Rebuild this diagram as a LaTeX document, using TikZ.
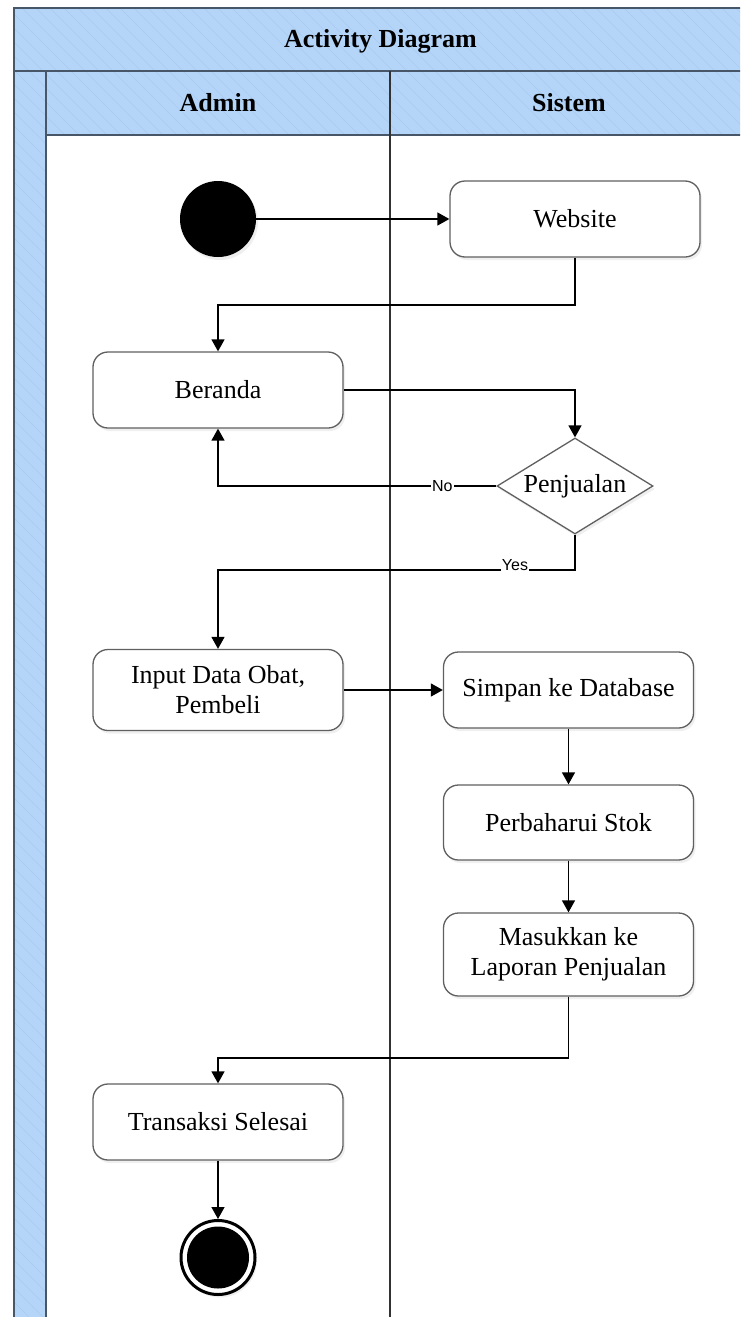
\documentclass[tikz,border=0pt]{standalone}
\usepackage{fontspec}
\setmainfont{Liberation Serif}
\newfontfamily\labelfont{Liberation Sans}
\usetikzlibrary{arrows.meta,shapes.geometric,shadows}
\definecolor{hdrblue}{RGB}{180,213,248}
\definecolor{hatchc}{RGB}{168,203,242}
\definecolor{framec}{RGB}{72,86,106}
\definecolor{boxc}{RGB}{96,96,96}
\definecolor{lanec}{RGB}{50,50,50}
\begin{document}
\begin{tikzpicture}[x=1pt,y=-1pt,
  act/.style={draw=boxc, line width=1.3pt, fill=white, rounded corners=15pt,
    minimum width=250pt, inner sep=2pt, align=center,
    font=\fontsize{26}{30}\selectfont,
    drop shadow={opacity=0.12, shadow xshift=2pt, shadow yshift=-3pt}},
  dec/.style={diamond, aspect=1.625, draw=boxc, line width=1.3pt, fill=white, inner sep=0pt,
    minimum width=156pt, minimum height=96pt,
    font=\fontsize{26}{30}\selectfont,
    drop shadow={opacity=0.12, shadow xshift=2pt, shadow yshift=-3pt}},
  hdr/.style={font=\bfseries\fontsize{26}{30}\selectfont, inner sep=0pt},
  arr/.style={draw=black, line width=1.4pt, -{Triangle[length=12pt,width=13pt]}},
  lbl/.style={font=\labelfont\fontsize{16}{18}\selectfont, fill=white, inner sep=1pt},
  frameline/.style={draw=framec, line width=2pt}
]
\clip (0,0) rectangle (740,1317);
% header fills
\fill[hdrblue] (14,8) rectangle (760,135);
\fill[hdrblue] (14,135) rectangle (46,1330);
\begin{scope}
  \clip (14,8) rectangle (760,135) (14,8) rectangle (46,1330);
  \foreach \i in {-1400,-1386,...,760} \draw[hatchc, line width=0.5pt] (\i,0) -- ++(1400,1400);
\end{scope}
\fill[white] (46,135) rectangle (760,1330);
% frame lines
\draw[frameline] (760,8) -- (14,8) -- (14,1330);
\draw[frameline] (14,71) -- (760,71);
\draw[frameline] (46,71) -- (46,1330);
\draw[frameline] (46,135) -- (760,135);
\draw[lanec, line width=2pt] (390,71) -- (390,1330);
\draw[framec, line width=2pt] (747,8) -- (747,1330);
% headers
\node[hdr] (title) at (380.5,41) {Activity Diagram};
\node[hdr] (admin) at (218,103) {Admin};
\node[hdr] (sistem) at (569,103) {Sistem};
% nodes
\node[circle, fill=black, minimum size=76pt, inner sep=0pt,
  drop shadow={opacity=0.12, shadow xshift=2pt, shadow yshift=-3pt}] (start) at (218,219) {};
\node[act, minimum height=76pt] (website) at (575,219) {Website};
\node[act, minimum height=76pt] (beranda) at (218,390) {Beranda};
\node[dec] (penj) at (575,486) {Penjualan};
\node[act, minimum height=81pt] (input) at (218,690) {Input Data Obat,\\Pembeli};
\node[act, minimum height=76pt] (simpan) at (568.5,690) {Simpan ke Database};
\node[act, minimum height=75pt] (perb) at (568.5,822.5) {Perbaharui Stok};
\node[act, minimum height=83pt] (masuk) at (568.5,954.5) {Masukkan ke\\Laporan Penjualan};
\node[act, minimum height=76pt] (trans) at (218,1122) {Transaksi Selesai};
\node[circle, draw=black, line width=3pt, fill=white, minimum size=74pt, inner sep=0pt,
  drop shadow={opacity=0.12, shadow xshift=2pt, shadow yshift=-3pt},
  path picture={\fill[black] (path picture bounding box.center) circle (31pt);}] (final) at (218,1257.5) {};
% bend points
\coordinate (b1) at (575,305);
\coordinate (b2) at (575,570);
\coordinate (b3) at (568.5,1058);
% connectors
\draw[arr] (start.east) -- (website.west);
\draw[arr] (website.south) -- (b1) -| (beranda.north);
\draw[arr] (beranda.east) -| (penj.north);
\draw[arr] (penj.west) -| node[lbl, pos=0.097] {No} (beranda.south);
\draw[arr] (penj.south) -- (b2) -| node[lbl, pos=0.084, anchor=base] {Yes} (input.north);
\draw[arr] (input.east) -- (simpan.west);
\draw[arr] (simpan.south) -- (perb.north);
\draw[arr] (perb.south) -- (masuk.north);
\draw[arr] (masuk.south) -- (b3) -| (trans.north);
\draw[arr] (trans.south) -- (final.north);
\end{tikzpicture}
\end{document}
